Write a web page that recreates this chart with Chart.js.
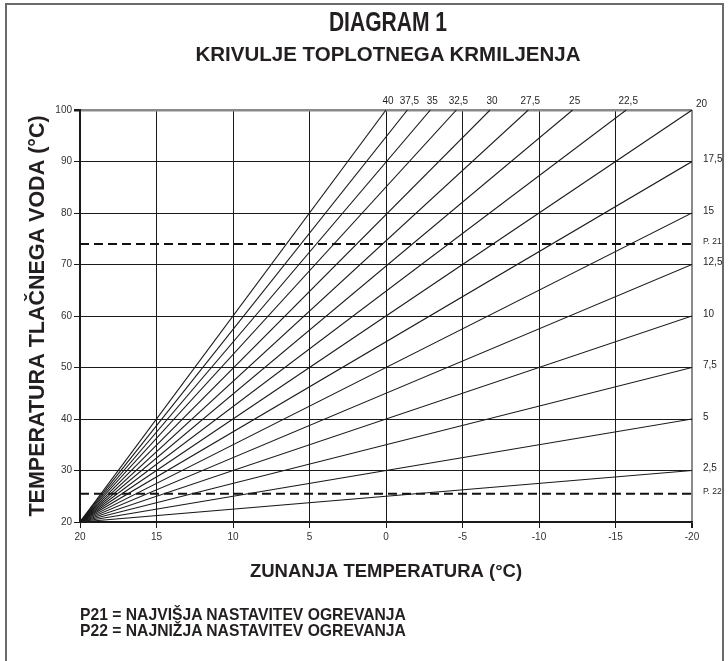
<!DOCTYPE html>
<html>
<head>
<meta charset="utf-8">
<script src="https://cdn.jsdelivr.net/npm/chart.js@4.4.1/dist/chart.umd.min.js"></script>
<style>
  html, body { margin: 0; padding: 0; background: #fff; overflow: hidden; }
  #wrap { position: relative; width: 728px; height: 661px; font-family: "Liberation Sans", Arial, Helvetica, sans-serif; color: #231f20; }
  #frame { position: absolute; left: 5px; top: 3px; width: 719px; height: 720px; border: 2px solid #6a6a6a; box-sizing: border-box; }
  #chartBox { position: absolute; left: 0; top: 0; width: 728px; height: 661px; }
  .t { position: absolute; left: 0; width: 776px; text-align: center; font-weight: bold; white-space: nowrap; }
  .n { position: absolute; left: 80px; font-weight: bold; white-space: nowrap; font-size: 15.7px; line-height: 16px; }
</style>
</head>
<body>
<div id="wrap">
  <div id="frame"></div>
  <div id="chartBox"><canvas id="c" width="728" height="661"></canvas></div>
  <div class="t" style="top:9px;font-size:27px;line-height:27px;transform:scaleX(0.78);transform-origin:388px 0;">DIAGRAM 1</div>
  <div class="t" style="top:43px;font-size:20.5px;line-height:21px;">KRIVULJE TOPLOTNEGA KRMILJENJA</div>
  <div class="n" style="top:607px;">P21 = NAJVIŠJA NASTAVITEV OGREVANJA</div>
  <div class="n" style="top:623px;">P22 = NAJNIŽJA NASTAVITEV OGREVANJA</div>
</div>
<script>
// ---- data ----
const originX = 20;            // outside temperature where all curves start
const originY = 20;            // flow temperature where all curves start
const curveLabels = ['2,5','5','7,5','10','12,5','15','17,5','20','22,5','25','27,5','30','32,5','35','37,5','40'];
const curveEndX   = [-20, -20, -20, -20, -20, -20, -20, -20, -15.7, -12.2, -9.3, -6.8, -4.6, -2.9, -1.4, 0];
const curveEndY   = [30, 40, 50, 60, 70, 80, 90, 100, 100, 100, 100, 100, 100, 100, 100, 100];
const refLabels   = ['P. 21', 'P. 22'];
const refValues   = [74, 25.5];
const xTickMin = -20, xTickMax = 20, xStep = 5;
const yTickMin = 20, yTickMax = 100, yStep = 10;
const xTitle = 'ZUNANJA TEMPERATURA (°C)';
const yTitle = 'TEMPERATURA TLAČNEGA VODA (°C)';

const FONT = '"Liberation Sans", Arial, Helvetica, sans-serif';
const INK = '#231f20';

const datasets = curveLabels.map((lab, i) => ({
  label: lab,
  data: [{x: originX, y: originY}, {x: curveEndX[i], y: curveEndY[i]}],
  showLine: true, borderColor: '#1a1a1a', borderWidth: 1.1,
  pointRadius: 0, fill: false
}));
refLabels.forEach((lab, i) => {
  datasets.push({
    label: lab,
    data: [{x: xTickMax, y: refValues[i]}, {x: xTickMin, y: refValues[i]}],
    showLine: true, borderColor: '#111', borderWidth: 2, borderDash: [9, 5],
    pointRadius: 0, fill: false
  });
});

const labelPlugin = {
  id: 'curveLabels',
  afterDatasetsDraw(chart) {
    const {ctx, chartArea: a, scales: {x, y}} = chart;
    ctx.save();
    ctx.font = '10px ' + FONT;
    ctx.fillStyle = INK;
    curveLabels.forEach((lab, i) => {
      const px = x.getPixelForValue(curveEndX[i]);
      const py = y.getPixelForValue(curveEndY[i]);
      const atRight = curveEndX[i] <= x.min;
      const atTop = curveEndY[i] >= y.max;
      if (atTop && !atRight) {
        ctx.textAlign = 'center'; ctx.textBaseline = 'alphabetic';
        ctx.fillText(lab, px + 2, a.top - 6);
      } else if (atTop && atRight) {
        ctx.textAlign = 'left'; ctx.textBaseline = 'middle';
        ctx.fillText(lab, a.right + 4, py - 6);
      } else {
        ctx.textAlign = 'left'; ctx.textBaseline = 'middle';
        ctx.fillText(lab, a.right + 11, py - 2);
      }
    });
    ctx.font = '8.5px ' + FONT;
    refLabels.forEach((lab, i) => {
      const py = y.getPixelForValue(refValues[i]);
      ctx.textAlign = 'left'; ctx.textBaseline = 'middle';
      ctx.fillText(lab, a.right + 11, py - 2);
    });
    ctx.restore();
  }
};

new Chart(document.getElementById('c'), {
  type: 'scatter',
  data: { datasets },
  options: {
    responsive: false,
    animation: false,
    events: [],
    layout: { padding: { left: 25, right: 36, top: 110, bottom: 69 } },
    plugins: { legend: { display: false }, tooltip: { enabled: false }, title: { display: false } },
    scales: {
      x: {
        type: 'linear', reverse: true, min: xTickMin, max: xTickMax,
        ticks: { stepSize: xStep, color: '#333', font: { family: FONT, size: 10 }, padding: 3,
                 callback: v => String(v) },
        grid: {
          color: c => (c.tick && c.tick.value === xTickMin) ? '#8a8a8a' : '#1a1a1a',
          lineWidth: c => (c.tick && c.tick.value === xTickMin) ? 2 : 1,
          tickColor: '#1a1a1a', tickLength: 6, drawTicks: true
        },
        border: { display: true, color: '#1a1a1a', width: 1.5 },
        title: { display: true, text: xTitle, color: INK, font: { family: FONT, size: 18.5, weight: 'bold' },
                 padding: { top: 0, bottom: 9 } },
        afterFit: s => { s.height = 70; }
      },
      y: {
        type: 'linear', min: yTickMin, max: yTickMax,
        ticks: { stepSize: yStep, color: '#333', font: { family: FONT, size: 10 }, padding: 2 },
        grid: {
          color: c => (c.tick && c.tick.value === yTickMax) ? '#8a8a8a' : '#1a1a1a',
          lineWidth: c => (c.tick && c.tick.value === yTickMax) ? 2.5 : 1,
          tickColor: '#1a1a1a', tickLength: 6, drawTicks: true
        },
        border: { display: true, color: '#1a1a1a', width: 2 },
        title: { display: true, text: yTitle, color: INK, font: { family: FONT, size: 21.5, weight: 'bold' },
                 padding: { top: 0, bottom: 0 } },
        afterFit: s => { s.width = 55; }
      }
    }
  },
  plugins: [labelPlugin]
});
</script>
</body>
</html>
